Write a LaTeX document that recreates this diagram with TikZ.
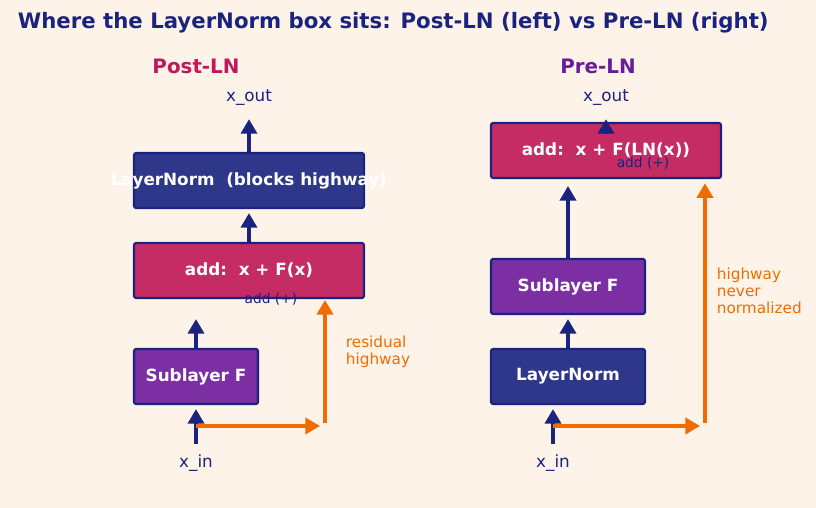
\documentclass[tikz,border=0pt]{standalone}
\usepackage{fontspec}
\setmainfont{DejaVu Sans}
\usetikzlibrary{arrows.meta}

\definecolor{bgcream}{RGB}{254,243,232}
\definecolor{navyink}{RGB}{26,35,126}
\definecolor{normfill}{RGB}{46,55,138}
\definecolor{addfill}{RGB}{198,44,100}
\definecolor{subfill}{RGB}{123,47,163}
\definecolor{hwyorange}{RGB}{239,108,0}
\definecolor{postcol}{RGB}{194,24,91}
\definecolor{precol}{RGB}{106,27,154}

\tikzset{
  blockbox/.style={draw=navyink, line width=1.5pt, rounded corners=1.5pt,
    minimum height=39.6pt, inner sep=0pt},
  blocktext/.style={text=white, font=\fontsize{12.1}{14}\selectfont\bfseries},
  flowarrow/.style={draw=navyink, line width=2.9pt,
    -{Triangle[width=11.5pt, length=10.5pt]}},
  hwyarrow/.style={draw=hwyorange, line width=2.9pt,
    -{Triangle[width=11.5pt, length=10.5pt]}},
  iolabel/.style={text=navyink, font=\fontsize{12.1}{14}\selectfont},
  addlabel/.style={text=navyink, font=\fontsize{9.9}{11}\selectfont},
  hwylabel/.style={text=hwyorange, font=\fontsize{11}{12.3}\selectfont, align=left, anchor=west}
}

\begin{document}
\begin{tikzpicture}[x=0.72pt, y=-0.72pt]
% Background and canvas
\fill[bgcream] (0,0) rectangle (816,508);
\useasboundingbox (0,0) rectangle (816,508);
% Title
\node[anchor=west, text=navyink, font=\fontsize{15.3}{18}\selectfont\bfseries] (title) at (13,23)
  {Where the LayerNorm box sits: Post-LN (left) vs Pre-LN (right)};
\node[text=postcol, font=\fontsize{14.3}{17}\selectfont\bfseries] (posthead) at (196,66) {Post-LN};
\node[text=precol, font=\fontsize{14.3}{17}\selectfont\bfseries] (prehead) at (598,66) {Pre-LN};

% Post-LN column
\node[blockbox, fill=normfill, minimum width=165.6pt] (lnL) at (249,180.5) {};
\node[blocktext] (lnLtext) at (lnL.center) {LayerNorm\ \ (blocks highway)};
\node[blockbox, fill=addfill, minimum width=165.6pt] (addL) at (249,270.5) {};
\node[blocktext] (addLtext) at (addL.center) {add:\ \ x + F(x)};
\node[addlabel] (addLplus) at (271,299) {add (+)};
\node[blockbox, fill=subfill, minimum width=89.3pt] (subL) at (196,376.5) {};
\node[blocktext] (subLtext) at (subL.center) {Sublayer F};
\node[iolabel] (xoutL) at (249,98) {x\_out};
\node[iolabel] (xinL) at (196,463) {x\_in};
\coordinate (forkL) at (196,426);
\coordinate (cornerL) at (325,426);
% Post-LN arrows
\draw[flowarrow, shorten <=4pt, shorten >=2.9pt] (xinL.north) -- (subL.south);
\draw[flowarrow, shorten >=14.4pt] (subL.north) -- (subL.north |- addL.south);
\draw[flowarrow, shorten >=2.9pt] (addL.north) -- (lnL.south);
\draw[flowarrow, shorten >=6pt] (lnL.north) -- (xoutL.south);
\draw[hwyarrow, shorten >=3.6pt] (forkL) -- (cornerL);
\draw[hwyarrow, shorten <=2.2pt, shorten >=0.7pt] (cornerL) -- (cornerL |- addL.south);
\node[hwylabel] (hwyL) at (341,352) {residual\\highway};

% Pre-LN column
\node[blockbox, fill=addfill, minimum width=165.6pt] (addR) at (606,150.5) {};
\node[blocktext] (addRtext) at (addR.center) {add:\ \ x + F(LN(x))};
\node[blockbox, fill=subfill, minimum width=110.9pt] (subR) at (568,286.5) {};
\node[blocktext] (subRtext) at (subR.center) {Sublayer F};
\node[blockbox, fill=normfill, minimum width=110.9pt] (lnR) at (568,376.5) {};
\node[blocktext] (lnRtext) at (lnR.center) {LayerNorm};
\node[iolabel] (xoutR) at (606,98) {x\_out};
\node[iolabel] (xinR) at (553,463) {x\_in};
\node[addlabel] (addRplus) at (643,163) {add (+)};
\coordinate (forkR) at (553,426);
\coordinate (cornerR) at (705,426);
% Pre-LN arrows
\draw[flowarrow, shorten <=4pt, shorten >=2.9pt] (xinR.north) -- (xinR.north |- lnR.south);
\draw[flowarrow, shorten >=2.9pt] (lnR.north) -- (subR.south);
\draw[flowarrow, shorten >=5pt] (subR.north) -- (subR.north |- addR.south);
\draw[flowarrow, shorten >=6pt] ([yshift=-8pt]addR.north) -- (xoutR.south);
\draw[hwyarrow, shorten >=3.6pt] (forkR) -- (cornerR);
\draw[hwyarrow, shorten <=2.2pt, shorten >=3pt] (cornerR) -- (cornerR |- addR.south);
\node[hwylabel] (hwyR) at (712,291) {highway\\never\\normalized};
\end{tikzpicture}
\end{document}
